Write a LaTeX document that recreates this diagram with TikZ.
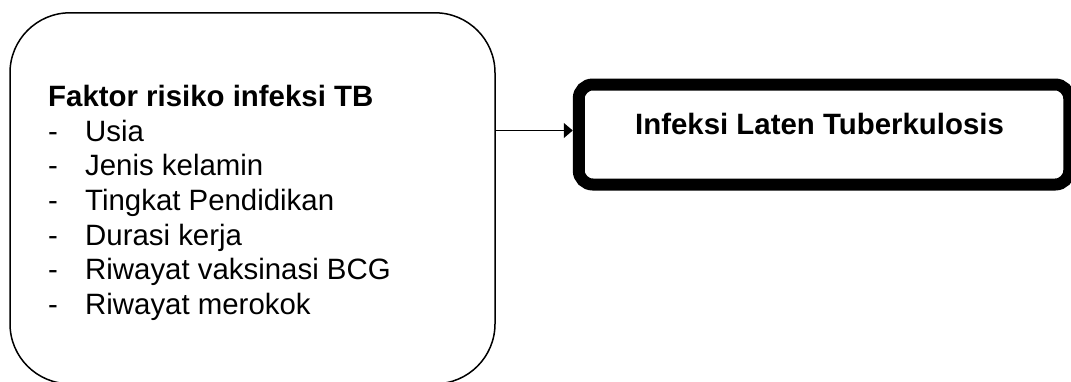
\documentclass[tikz,border=0pt]{standalone}
\usepackage{fontspec}
\setmainfont{Liberation Sans}
\usetikzlibrary{arrows.meta}
\begin{document}
\begin{tikzpicture}[x=1pt,y=-1pt,
  factorbox/.style={draw=black, line width=1.5pt, rounded corners=60pt, inner sep=0pt,
    minimum width=485pt, minimum height=371pt},
  outcomebox/.style={draw=black, line width=12pt, rounded corners=14pt, inner sep=0pt,
    minimum width=490.5pt, minimum height=100pt},
  bigtext/.style={inner sep=0pt, anchor=base west, font=\fontsize{29.4}{34.6}\selectfont},
  link/.style={draw=black, line width=1.2pt, -{Triangle[length=9pt,width=15pt]}}]
\useasboundingbox (0,0) rectangle (1071,381);
\clip (0,0) rectangle (1071,381);
\fill[white] (0,0) rectangle (1071,381);
\node[factorbox] (L) at (252.5,198.3) {};
\node[outcomebox] (R) at (824,134.5) {};
\node[bigtext] (F) at (48,106.7) {\begin{tabular}[t]{@{}l@{}l@{}}
\multicolumn{2}{@{}l@{}}{\bfseries Faktor risiko infeksi TB}\\
\makebox[37pt][l]{-} & Usia\\
\makebox[37pt][l]{-} & Jenis kelamin\\
\makebox[37pt][l]{-} & Tingkat Pendidikan\\
\makebox[37pt][l]{-} & Durasi kerja\\
\makebox[37pt][l]{-} & Riwayat vaksinasi BCG\\
\makebox[37pt][l]{-} & Riwayat merokok
\end{tabular}};
\node[bigtext, font=\bfseries\fontsize{29.4}{34.6}\selectfont] (T) at (635,134) {Infeksi Laten Tuberkulosis};
\coordinate (A) at (0,130.5);
\draw[link] (L.east |- A) -- (R.west |- A);
\end{tikzpicture}
\end{document}
